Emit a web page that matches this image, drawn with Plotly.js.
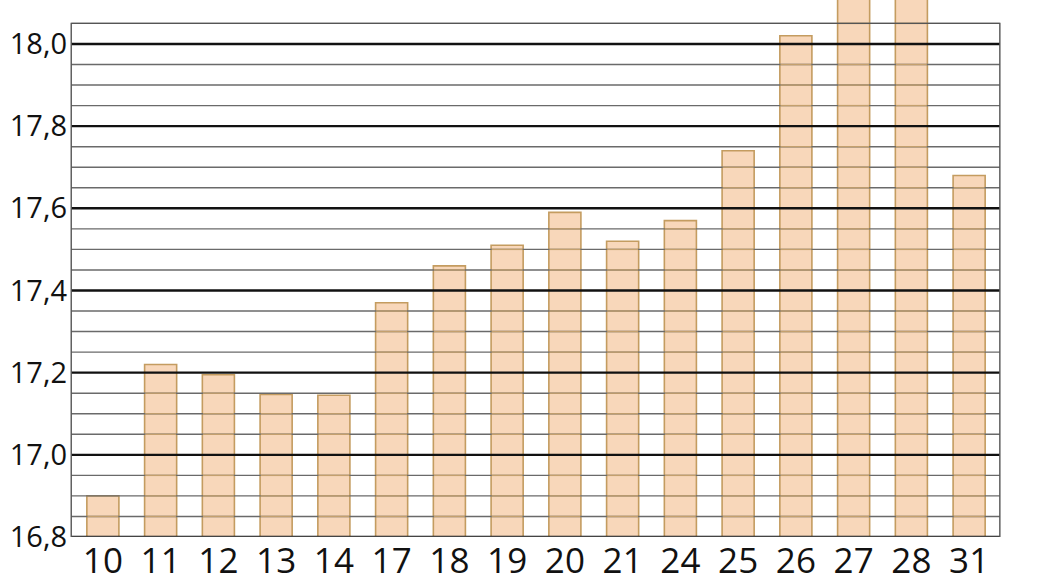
<!DOCTYPE html>
<html><head><meta charset="utf-8">
<script src="https://cdn.plot.ly/plotly-3.0.1.min.js"></script>
<style>html,body{margin:0;padding:0;background:#fff;}#chart{width:1048px;height:582px;}</style>
</head><body><div id="chart"></div>
<script>
const categories = ["10","11","12","13","14","17","18","19","20","21","24","25","26","27","28","31"];
const values = [16.90,17.22,17.195,17.147,17.145,17.37,17.46,17.51,17.59,17.52,17.57,17.74,18.02,18.11,18.11,17.68];
const yTickVals = [16.8,17.0,17.2,17.4,17.6,17.8,18.0];

const yMin = 16.8, yFrameTop = 18.05, yTop = 18.107;
const bargap = 0.445, half = (1 - bargap) / 2;
const barFill = 'rgb(248,215,186)', barEdge = 'rgb(196,156,96)';
const shapes = [];
const minorVals = [], majorVals = [];
for (let i = 0; i <= 25; i++) {
  const v = +(yMin + i*0.05).toFixed(2);
  (yTickVals.some(t => Math.abs(t - v) < 1e-6) ? majorVals : minorVals).push(v);
}
// minor grid (gray)
minorVals.forEach(v => shapes.push({type:'line', layer:'above', xref:'paper', yref:'y',
  x0:-0.003, x1:1.002, y0:v, y1:v, line:{color:'#6a6a6a', width:1.4}}));
// minor grid seen through bars (tan)
values.forEach((val, i) => {
  minorVals.filter(v => v < val - 0.004).forEach(v => shapes.push({type:'line', layer:'above', xref:'x', yref:'y',
    x0:i-half+0.01, x1:i+half-0.01, y0:v, y1:v, line:{color:'rgb(196,160,110)', width:1.4}}));
});
// major grid (black)
majorVals.forEach(v => shapes.push({type:'line', layer:'above', xref:'paper', yref:'y',
  x0:-0.003, x1:1.002, y0:v, y1:v, line:{color:'#111', width:2.4}}));
// frame
shapes.push({type:'rect', layer:'above', xref:'paper', yref:'y', x0:-0.003, x1:1.002, y0:yMin, y1:yFrameTop,
  line:{color:'#555', width:1.4}, fillcolor:'rgba(0,0,0,0)'});

const trace = {
  type:'bar', x:categories, y:values, base:0,
  marker:{color:barFill, line:{color:barEdge, width:1.6}},
  hoverinfo:'skip'
};

const layout = {
  width:1048, height:582,
  margin:{l:74, r:50, t:0, b:45, pad:0},
  paper_bgcolor:'#fff', plot_bgcolor:'#fff',
  separators:',.',
  bargap:bargap,
  showlegend:false,
  shapes:shapes,
  font:{family:'"Open Sans", sans-serif', color:'#111'},
  xaxis:{type:'category', showgrid:false, zeroline:false, showline:false, ticks:'',
    tickfont:{size:35, color:'#111'}, ticklabelstandoff:0},
  yaxis:{range:[yMin, yTop], tickvals:yTickVals, tickformat:'.1f', showgrid:false, zeroline:false,
    showline:false, ticks:'', tickfont:{size:29, color:'#111'}, ticklabelstandoff:6}
};
Plotly.newPlot('chart', [trace], layout, {displayModeBar:false, staticPlot:true});
</script></body></html>
